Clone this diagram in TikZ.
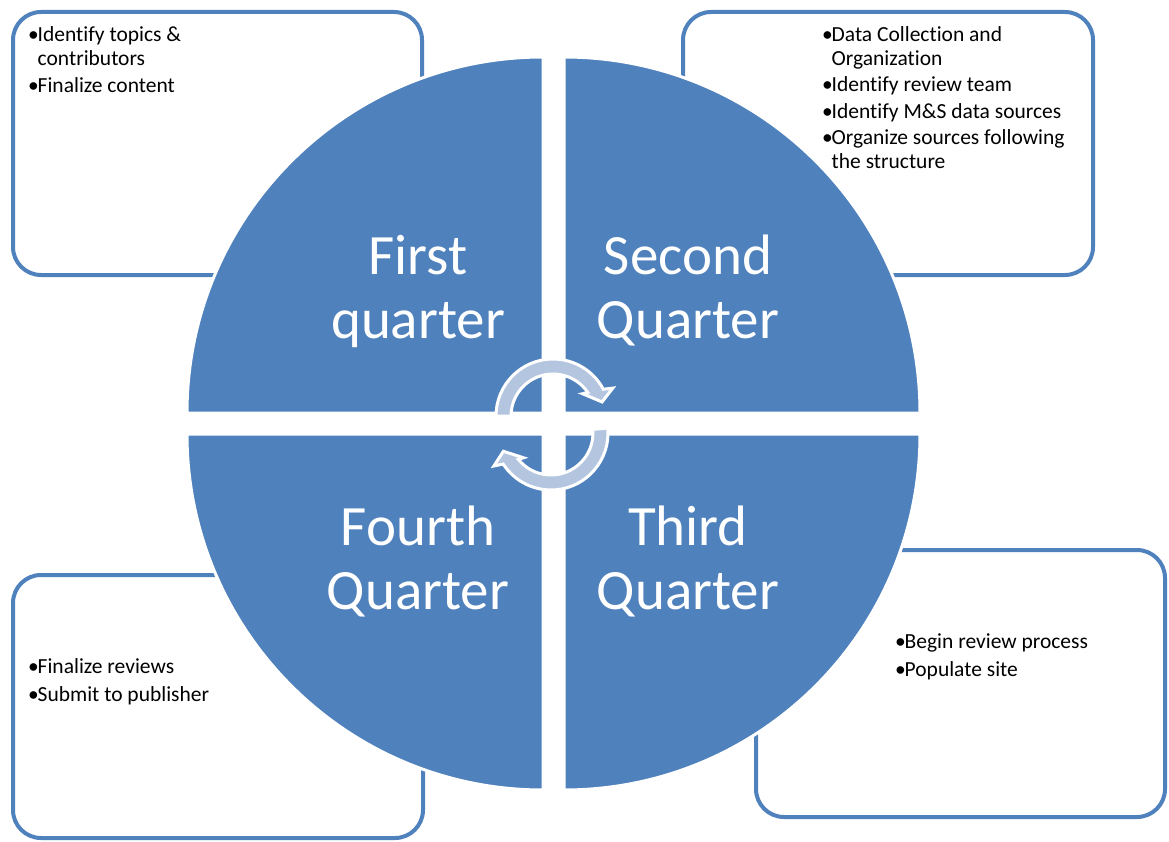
\documentclass[tikz,border=0pt]{standalone}
\usepackage{fontspec}
\setmainfont{Carlito}[Ligatures=NoCommon]
\usetikzlibrary{calc}
\definecolor{qblue}{RGB}{79,129,189}
\definecolor{qlight}{RGB}{180,197,223}
\tikzset{
  notebox/.style={draw=qblue, line width=4pt, fill=white, rounded corners=28pt},
  quad/.style={fill=qblue, draw=white, line width=3pt},
  bigtext/.style={text=white, align=center, inner sep=0pt, anchor=base,
    font=\fontsize{57}{64}\selectfont},
  listtext/.style={anchor=base west, inner sep=0pt, text=black,
    font=\fontsize{21.5}{23.5}\selectfont},
  cyc/.style={fill=qlight, draw=white, line width=3pt, line join=miter}
}
\newcommand{\bl}{\makebox[10.5pt][l]{\hspace{1pt}\textbullet}}
\newcommand{\cycarrow}{%
  (180:57) arc[start angle=180, end angle=28, radius=57]
  -- (25:66) -- (16:51) -- (37:37) -- (34:42)
  arc[start angle=34, end angle=180, radius=42] -- cycle}
\begin{document}
\begin{tikzpicture}[x=1pt,y=1pt]
\useasboundingbox (0,0) rectangle (1169,-842);
% note boxes
\draw[notebox] (13,-12) rectangle (422,-275) coordinate (tlbox);
\draw[notebox] (683,-12) rectangle (1093,-275) coordinate (trbox);
\draw[notebox] (756,-550) rectangle (1165,-817) coordinate (brbox);
\draw[notebox] (13,-575) rectangle (423,-838) coordinate (blbox);
% quadrants
\filldraw[quad] (543,-413) -- (187,-413) arc[start angle=180, end angle=90, radius=356] -- cycle;
\filldraw[quad] (564,-413) -- (564,-57) arc[start angle=90, end angle=0, radius=356] -- cycle;
\filldraw[quad] (543,-434) -- (543,-790) arc[start angle=270, end angle=180, radius=356] -- cycle;
\filldraw[quad] (564,-434) -- (920,-434) arc[start angle=0, end angle=-90, radius=356] -- cycle;
% quadrant labels (base anchor = last line baseline)
\node[bigtext] (q1) at (418,-338) {First\\quarter};
\node[bigtext] (q2) at (688,-338) {Second\\Quarter};
\node[bigtext] (q3) at (688,-609) {Third\\Quarter};
\node[bigtext] (q4) at (418,-609) {Fourth\\Quarter};
% cycle arrows
\begin{scope}[shift={(553,-416)}]
  \filldraw[cyc] \cycarrow;
\end{scope}
\begin{scope}[shift={(551,-433)}, rotate=185]
  \filldraw[cyc] \cycarrow;
\end{scope}
% lists
\node[listtext] (l1) at (27,-42) {\begin{tabular}[t]{@{}l@{}l@{}}
\bl & Identify topics \&\\ & contributors\\[3.5pt]
\bl & Finalize content\end{tabular}};
\node[listtext] (l2) at (821,-42) {\begin{tabular}[t]{@{}l@{}l@{}}
\bl & Data Collection and\\ & Organization\\[3pt]
\bl & Identify review team\\[3pt]
\bl & Identify M\&S data sources\\[3pt]
\bl & Organize sources following\\ & the structure\end{tabular}};
\node[listtext] (l3) at (894,-648) {\begin{tabular}[t]{@{}l@{}l@{}}
\bl & Begin review process\\[4.5pt]
\bl & Populate site\end{tabular}};
\node[listtext] (l4) at (27,-673) {\begin{tabular}[t]{@{}l@{}l@{}}
\bl & Finalize reviews\\[4.5pt]
\bl & Submit to publisher\end{tabular}};
\end{tikzpicture}
\end{document}
